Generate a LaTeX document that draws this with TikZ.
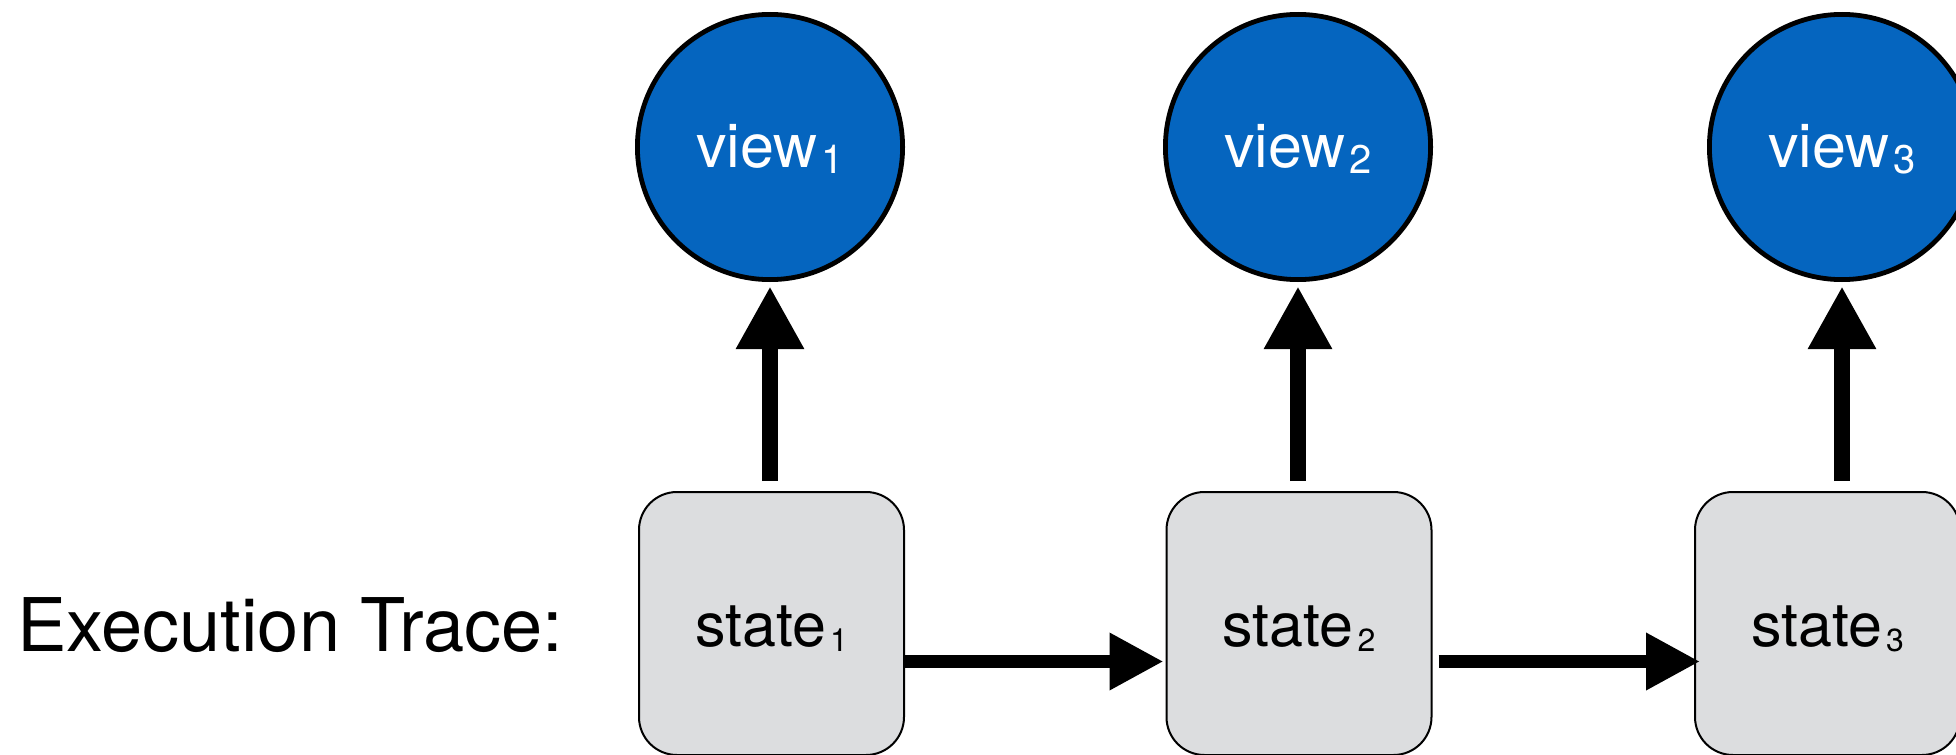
\documentclass[tikz,border=0pt]{standalone}
\usepackage{fontspec}
\setmainfont{TeX Gyre Heros}
\usetikzlibrary{arrows.meta}
\definecolor{viewblue}{HTML}{0565BF}
\definecolor{stategray}{HTML}{DCDDDF}
\newcommand\vsub[1]{\hspace{2pt}\raisebox{-3pt}{\fontsize{20pt}{20pt}\selectfont #1}}
\newcommand\ssub[1]{\hspace{2pt}\raisebox{-2.5pt}{\fontsize{16pt}{16pt}\selectfont #1}}
\begin{document}
\begin{tikzpicture}[x=0.5pt,y=-0.5pt,
  viewnode/.style={circle, draw=black, line width=2.4pt, fill=viewblue,
    minimum size=132.6pt, inner sep=0pt, outer sep=0pt, text=white,
    font=\fontsize{30.5pt}{30.5pt}\selectfont, text height=20.5pt, text depth=0pt},
  statenode/.style={rectangle, rounded corners=19pt, draw=black, line width=1pt,
    fill=stategray, minimum width=132.5pt, minimum height=131.5pt,
    inner sep=0pt, outer sep=0pt,
    font=\fontsize{30.5pt}{30.5pt}\selectfont, text height=23pt, text depth=0pt},
  varrow/.style={line width=8pt, -{Triangle[length=31.5pt,width=32pt]},
    shorten <=5.5pt, shorten >=3.3pt},
  harrow/.style={line width=6.5pt, -{Triangle[length=27pt,width=27pt]}},
  tracelabel/.style={anchor=base west, inner sep=0pt,
    font=\fontsize{37pt}{37pt}\selectfont}
]
\useasboundingbox (0,0) rectangle (1956,755);
\clip (0,0) rectangle (1956,755);

\node[tracelabel] (trace) at (17,651) {Execution Trace:};

\node[statenode] (s1) at (771.5,623.5) {state\ssub{1}};
\node[statenode] (s2) at (1299,623.5) {state\ssub{2}};
\node[statenode] (s3) at (1827.5,623.5) {state\ssub{3}};

\node[viewnode] (v1) at (770,147) {view\vsub{1}};
\node[viewnode] (v2) at (1298,147) {view\vsub{2}};
\node[viewnode] (v3) at (1842,147) {view\vsub{3}};

\draw[varrow] (v1.south |- s1.north) -- (v1.south);
\draw[varrow] (v2.south |- s2.north) -- (v2.south);
\draw[varrow] (v3.south |- s3.north) -- (v3.south);

\draw[harrow] ([yshift=-19pt]s1.east) -- ([yshift=-19pt,xshift=-1.5pt]s2.west);
\draw[harrow] ([yshift=-19pt,xshift=3.5pt]s2.east) -- ([yshift=-19pt,xshift=2.5pt]s3.west);
\end{tikzpicture}
\end{document}
